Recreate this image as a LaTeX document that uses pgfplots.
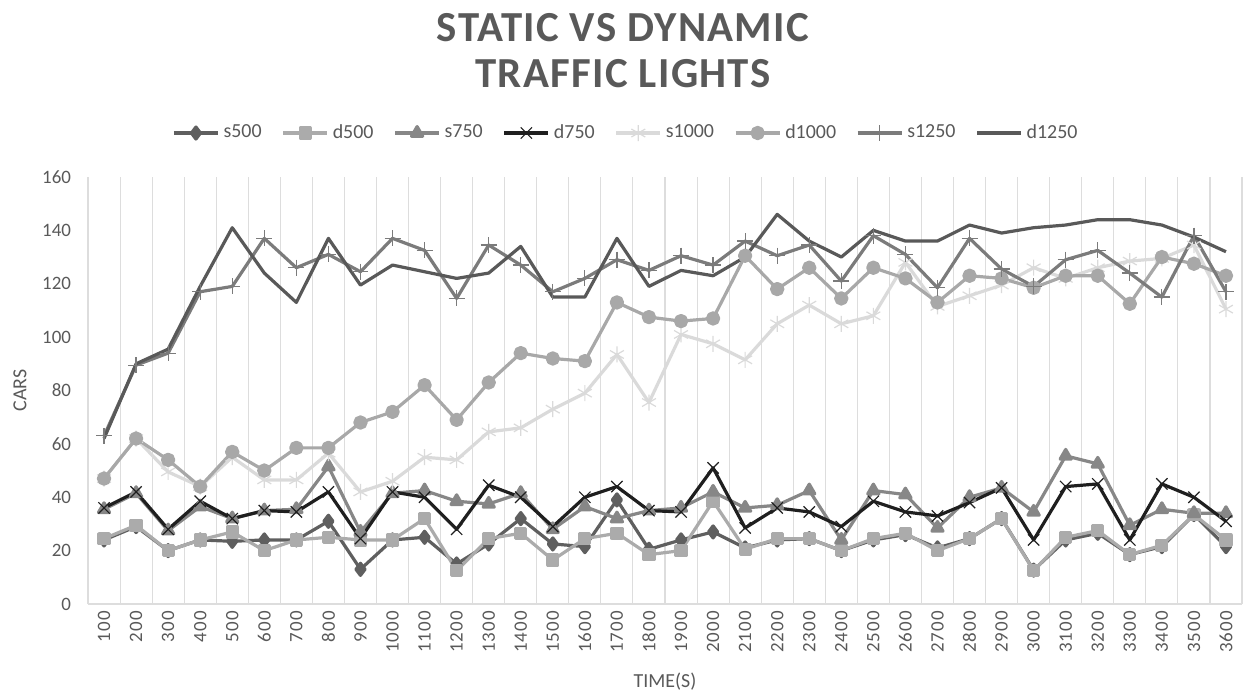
\documentclass[border=0pt]{standalone}
\usepackage{fontspec}
\setmainfont{Carlito}
\newfontfamily\titlefont[LetterSpace=3]{Carlito}
\newfontfamily\tickfont[LetterSpace=6]{Carlito}
\usepackage{pgfplots}
\pgfplotsset{compat=1.18}
\definecolor{txt}{HTML}{595959}
\definecolor{gridc}{HTML}{DDDDDD}
\definecolor{cs500}{HTML}{5F5F5F}
\definecolor{cd500}{HTML}{ABABAB}
\definecolor{cs750}{HTML}{878787}
\definecolor{cd750}{HTML}{1F1F1F}
\definecolor{cs1000}{HTML}{DADADA}
\definecolor{cd1000}{HTML}{A8A8A8}
\definecolor{cs1250}{HTML}{7B7B7B}
\definecolor{cd1250}{HTML}{595959}
\begin{document}
\begin{tikzpicture}
\path[use as bounding box] (0,0) rectangle (621.5bp,346.5bp);
\node[text=txt, font=\titlefont\fontsize{21.5}{24}\bfseries\selectfont] at (311.5bp,332.5bp) {STATIC VS DYNAMIC};
\node[text=txt, font=\titlefont\fontsize{21.5}{24}\bfseries\selectfont] at (311.5bp,309.5bp) {TRAFFIC LIGHTS};
\begin{axis}[
  at={(44bp,44.5bp)}, anchor=south west,
  scale only axis, width=577bp, height=213.5bp,
  xmin=0.5, xmax=36.5, ymin=0, ymax=160,
  xtick={1,...,36},
  xticklabels={100,200,300,400,500,600,700,800,900,1000,1100,1200,1300,1400,1500,1600,1700,1800,1900,2000,2100,2200,2300,2400,2500,2600,2700,2800,2900,3000,3100,3200,3300,3400,3500,3600},
  ytick={0,20,...,160},
  minor xtick={0.5,1.5,...,36.5},
  xminorgrids,
  minor grid style={color=gridc, line width=0.55bp},
  major tick length=0pt, minor tick length=0pt,
  axis x line*=bottom, axis y line*=left,
  x axis line style={draw=gridc, line width=0.8bp, -},
  y axis line style={draw=none},
  /pgf/number format/assume math mode=true,
  tick label style={font=\fontsize{9.5}{11}\selectfont, text=txt},
  xticklabel style={rotate=90, anchor=east, font=\tickfont\fontsize{9.5}{11}\selectfont},
  yticklabel shift=5bp,
  xlabel={TIME(S)}, ylabel={CARS},
  label style={font=\fontsize{10}{12}\selectfont, text=txt},
  xlabel style={at={(axis description cs:0.5,-0.182)}, anchor=center},
  ylabel style={at={(axis description cs:-0.0589,0.5)}, anchor=center, rotate=0},
  legend style={at={(0.467,1.103)}, anchor=center, draw=none, fill=none,
    font=\fontsize{10}{12}\selectfont, text=txt,
    /tikz/every even column/.append style={column sep=8bp}},
  legend columns=8,
  legend image code/.code={\draw[mark repeat=2,mark phase=2,#1] plot coordinates {(0bp,0bp) (11bp,0bp) (22bp,0bp)};},
  every axis plot/.append style={line width=1.6bp, line join=round},
]
\addplot[color=cs500, mark=diamond*, mark size=3bp, mark options={solid}] coordinates {
(1,24) (2,29) (3,20) (4,24) (5,23.5) (6,24) (7,24) (8,31) (9,13) (10,24) (11,25) (12,15)
(13,22.5) (14,32) (15,22.5) (16,21.5) (17,39) (18,20.5) (19,24) (20,27) (21,21) (22,24) (23,24.5) (24,20)
(25,24) (26,26) (27,21) (28,24.5) (29,32) (30,12.7) (31,24) (32,26.5) (33,18.5) (34,21.5) (35,33.5) (36,21.5)};
\addlegendentry{s500}
\addplot[color=cd500, mark=square*, mark size=2.5bp] coordinates {
(1,24.5) (2,29.5) (3,20) (4,24) (5,27) (6,20) (7,24) (8,25) (9,24) (10,24) (11,32) (12,12.5)
(13,24.5) (14,26.5) (15,16.5) (16,24.5) (17,26.5) (18,18.5) (19,20) (20,38.5) (21,20.5) (22,24.5) (23,24.5) (24,20)
(25,24.5) (26,26.5) (27,20) (28,24.5) (29,32) (30,12.5) (31,25) (32,27.5) (33,18.5) (34,22) (35,33.5) (36,24)};
\addlegendentry{d500}
\addplot[color=cs750, mark=triangle*, mark size=3.2bp] coordinates {
(1,35.5) (2,41.5) (3,27.5) (4,36.5) (5,32) (6,35) (7,35.5) (8,51.5) (9,27) (10,41.5) (11,42.5) (12,38.5)
(13,37.5) (14,41.5) (15,28) (16,36.5) (17,32) (18,35) (19,36) (20,42) (21,36) (22,37) (23,42.5) (24,24)
(25,42.5) (26,41) (27,28.5) (28,40) (29,43.5) (30,34.5) (31,55.5) (32,52.5) (33,29.5) (34,35.5) (35,34) (36,34)};
\addlegendentry{s750}
\addplot[color=cd750, mark=x, mark size=4bp, mark options={line width=0.6bp}] coordinates {
(1,36) (2,42) (3,28) (4,38.5) (5,32) (6,35) (7,34.5) (8,42) (9,24.5) (10,42) (11,40) (12,28)
(13,44.5) (14,40) (15,29) (16,40) (17,44) (18,35) (19,34.5) (20,51) (21,28.5) (22,36) (23,34.5) (24,29)
(25,38.5) (26,34.5) (27,33) (28,38) (29,43.5) (30,24) (31,44) (32,45) (33,24) (34,45) (35,40) (36,31)};
\addlegendentry{d750}
\addplot[color=cs1000, mark=asterisk, mark size=4bp, mark options={line width=0.6bp}] coordinates {
(1,47) (2,62) (3,49.5) (4,44) (5,55) (6,46.5) (7,46.5) (8,56.5) (9,42) (10,46) (11,55) (12,54)
(13,64.5) (14,66) (15,73) (16,79) (17,93.5) (18,75.5) (19,101) (20,97.5) (21,91.5) (22,105) (23,112) (24,105)
(25,108) (26,128) (27,111.5) (28,115.5) (29,119.5) (30,126) (31,122) (32,126) (33,128.5) (34,129.5) (35,134.5) (36,110.5)};
\addlegendentry{s1000}
\addplot[color=cd1000, mark=*, mark size=2.8bp] coordinates {
(1,47) (2,62) (3,54) (4,44) (5,57) (6,50) (7,58.5) (8,58.5) (9,68) (10,72) (11,82) (12,69)
(13,83) (14,94) (15,92) (16,91) (17,113) (18,107.5) (19,106) (20,107) (21,130.5) (22,118) (23,126) (24,114.5)
(25,126) (26,122) (27,113) (28,123) (29,122) (30,118.5) (31,123) (32,123) (33,112.5) (34,130) (35,127.5) (36,123)};
\addlegendentry{d1000}
\addplot[color=cs1250, mark=+, mark size=4bp, mark options={line width=0.6bp}] coordinates {
(1,63) (2,89.5) (3,94) (4,117) (5,119) (6,137) (7,126) (8,131) (9,124.5) (10,137) (11,132.5) (12,114.5)
(13,134.5) (14,127) (15,117) (16,122) (17,129) (18,125) (19,130.5) (20,127) (21,136) (22,130.5) (23,134.5) (24,121)
(25,138) (26,131) (27,118.5) (28,137) (29,125.5) (30,119) (31,129) (32,132.5) (33,124) (34,115) (35,138) (36,117)};
\addlegendentry{s1250}
\addplot[color=cd1250, mark=none] coordinates {
(1,62) (2,90) (3,95.5) (4,119) (5,141) (6,124) (7,113) (8,137) (9,119.5) (10,127) (11,124.5) (12,122)
(13,124) (14,134) (15,115) (16,115) (17,137) (18,119) (19,125) (20,123) (21,130) (22,146) (23,136) (24,130)
(25,140) (26,136) (27,136) (28,142) (29,139) (30,141) (31,142) (32,144) (33,144) (34,142) (35,137.5) (36,132)};
\addlegendentry{d1250}
\end{axis}
\end{tikzpicture}
\end{document}
